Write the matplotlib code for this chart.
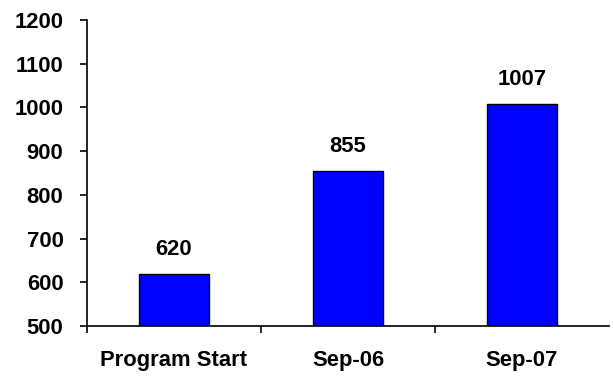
import matplotlib
matplotlib.use("Agg")
import matplotlib.pyplot as plt

categories = ["Program Start", "Sep-06", "Sep-07"]
values = [620, 855, 1007]
yticks = [500, 600, 700, 800, 900, 1000, 1100, 1200]

plt.rcParams["font.family"] = ["Liberation Sans", "DejaVu Sans"]
plt.rcParams["font.weight"] = "bold"
FS = 15.8

fig = plt.figure(figsize=(6.13, 3.76), dpi=100)
ax = fig.add_axes([87 / 613, 1 - 326 / 376, 522 / 613, 306 / 376])

xs = list(range(len(categories)))
ax.bar(xs, [v - 500 for v in values], bottom=500, width=0.405,
       color="#0000FF", edgecolor="black", linewidth=1)
for x, v in zip(xs, values):
    ax.annotate(str(v), (x, v), xytext=(0, 10), textcoords="offset points",
                ha="center", va="bottom", fontsize=FS, fontweight="bold")

ax.set_xlim(-0.5, 2.5)
ax.set_ylim(500, 1200)
ax.set_yticks(yticks)
ax.set_xticks([-0.5, 0.5, 1.5])
ax.set_xticklabels([])
ax.set_xticks(xs, minor=True)
ax.set_xticklabels(categories, minor=True)
ax.tick_params(axis="x", which="major", length=5, width=1.2, direction="out")
ax.tick_params(axis="x", which="minor", length=0, pad=17, labelsize=FS)
ax.tick_params(axis="y", length=5, width=1.2, direction="out", pad=12, labelsize=FS)
for lab in ax.get_yticklabels() + ax.get_xticklabels(minor=True):
    lab.set_fontweight("bold")

for s in ["top", "right"]:
    ax.spines[s].set_visible(False)
for s in ["left", "bottom"]:
    ax.spines[s].set_linewidth(1.2)

fig.savefig("out.png", dpi=100)
